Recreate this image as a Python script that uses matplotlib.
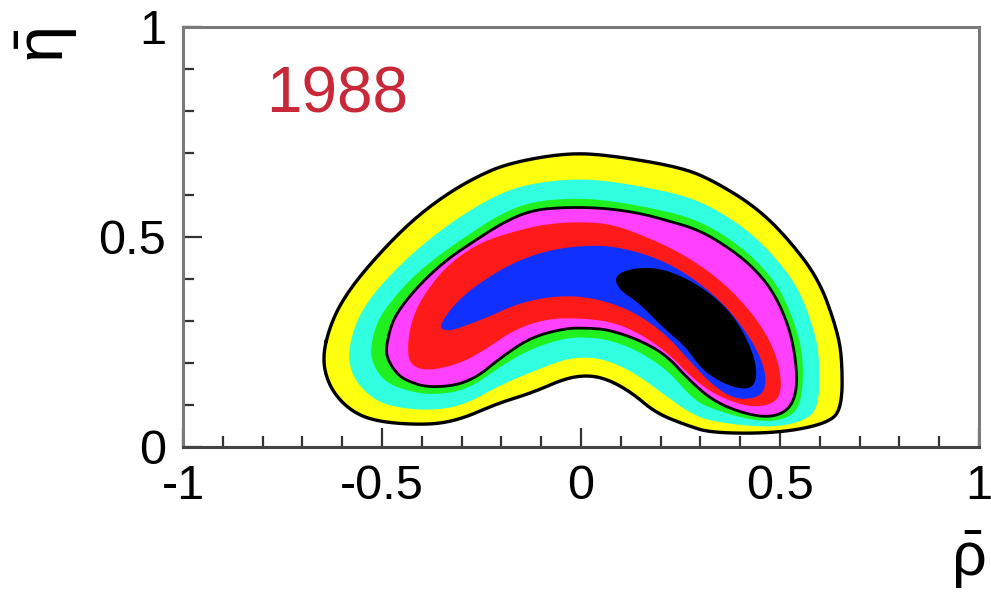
import numpy as np
import matplotlib
matplotlib.use('Agg')
import matplotlib.pyplot as plt
from matplotlib.ticker import MultipleLocator

plt.rcParams['font.family'] = ['Liberation Sans', 'DejaVu Sans']
plt.rcParams['mathtext.fontset'] = 'custom'
plt.rcParams['mathtext.rm'] = 'Liberation Sans'
plt.rcParams['mathtext.it'] = 'Liberation Sans'
plt.rcParams['mathtext.default'] = 'regular'

# contour boundaries (rho_bar, eta_bar), outermost first
outer = [(-0.651, 0.214), (-0.626, 0.302), (-0.583, 0.374), (-0.515, 0.452), (-0.432, 0.533),
         (-0.349, 0.595), (-0.264, 0.643), (-0.181, 0.676), (-0.038, 0.700), (0.070, 0.695),
         (0.246, 0.667), (0.329, 0.636), (0.440, 0.571), (0.523, 0.493), (0.598, 0.398),
         (0.641, 0.286), (0.656, 0.214), (0.656, 0.095), (0.623, 0.057), (0.497, 0.033),
         (0.329, 0.033), (0.264, 0.052), (0.188, 0.081), (0.128, 0.129), (0.070, 0.160),
         (0.020, 0.171), (-0.038, 0.164), (-0.123, 0.129), (-0.206, 0.105), (-0.307, 0.064),
         (-0.389, 0.052), (-0.515, 0.060), (-0.583, 0.088), (-0.633, 0.143)]

yellow_cyan = [(-0.586, 0.224), (-0.565, 0.300), (-0.525, 0.361), (-0.461, 0.428), (-0.384, 0.493),
               (-0.308, 0.546), (-0.230, 0.591), (-0.153, 0.622), (-0.038, 0.638), (0.064, 0.635),
               (0.231, 0.606), (0.314, 0.579), (0.407, 0.525), (0.480, 0.461), (0.544, 0.383),
               (0.584, 0.286), (0.600, 0.211), (0.598, 0.103), (0.570, 0.064), (0.476, 0.045),
               (0.329, 0.060), (0.271, 0.082), (0.203, 0.129), (0.135, 0.176), (0.070, 0.205),
               (0.020, 0.214), (-0.038, 0.210), (-0.123, 0.179), (-0.201, 0.148), (-0.297, 0.098),
               (-0.387, 0.086), (-0.488, 0.098), (-0.538, 0.126), (-0.575, 0.170)]

cyan_green = [(-0.530, 0.232), (-0.513, 0.299), (-0.475, 0.350), (-0.419, 0.409), (-0.348, 0.463),
              (-0.277, 0.509), (-0.205, 0.553), (-0.132, 0.582), (-0.038, 0.592), (0.060, 0.589),
              (0.219, 0.561), (0.302, 0.536), (0.383, 0.490), (0.449, 0.437), (0.503, 0.372),
              (0.541, 0.286), (0.559, 0.208), (0.555, 0.109), (0.526, 0.069), (0.451, 0.058),
              (0.329, 0.090), (0.280, 0.115), (0.219, 0.182), (0.142, 0.230), (0.070, 0.255),
              (0.020, 0.261), (-0.038, 0.260), (-0.123, 0.235), (-0.196, 0.196), (-0.286, 0.135),
              (-0.383, 0.123), (-0.459, 0.140), (-0.497, 0.160), (-0.522, 0.195)]

inner = [(-0.490, 0.238), (-0.475, 0.298), (-0.445, 0.343), (-0.394, 0.398), (-0.332, 0.450),
         (-0.264, 0.493), (-0.193, 0.536), (-0.123, 0.564), (-0.038, 0.571), (0.058, 0.569),
         (0.146, 0.557), (0.214, 0.540), (0.296, 0.517), (0.372, 0.474), (0.435, 0.426),
         (0.485, 0.367), (0.523, 0.286), (0.540, 0.207), (0.543, 0.136), (0.523, 0.088),
         (0.472, 0.069), (0.397, 0.083), (0.329, 0.112), (0.271, 0.160), (0.214, 0.219),
         (0.146, 0.255), (0.070, 0.279), (0.020, 0.283), (-0.038, 0.283), (-0.123, 0.262),
         (-0.193, 0.219), (-0.281, 0.152), (-0.382, 0.140), (-0.445, 0.160), (-0.470, 0.183),
         (-0.487, 0.212)]

magenta_red = [(-0.437, 0.231), (-0.427, 0.298), (-0.399, 0.357), (-0.339, 0.431), (-0.256, 0.486),
               (-0.173, 0.512), (-0.088, 0.531), (-0.005, 0.536), (0.078, 0.531), (0.178, 0.495),
               (0.264, 0.455), (0.347, 0.400), (0.415, 0.336), (0.465, 0.271), (0.495, 0.207),
               (0.505, 0.143), (0.490, 0.105), (0.430, 0.093), (0.347, 0.119), (0.284, 0.160),
               (0.216, 0.226), (0.146, 0.271), (0.078, 0.298), (-0.005, 0.307), (-0.088, 0.305),
               (-0.168, 0.279), (-0.231, 0.238), (-0.299, 0.200), (-0.382, 0.181), (-0.427, 0.193)]

red_blue = [(-0.357, 0.283), (-0.339, 0.314), (-0.307, 0.350), (-0.256, 0.390), (-0.173, 0.438),
            (-0.088, 0.467), (-0.005, 0.479), (0.078, 0.479), (0.178, 0.455), (0.264, 0.414),
            (0.347, 0.352), (0.405, 0.288), (0.447, 0.224), (0.467, 0.164), (0.455, 0.119),
            (0.389, 0.112), (0.329, 0.148), (0.271, 0.207), (0.214, 0.267), (0.146, 0.314),
            (0.078, 0.343), (-0.005, 0.360), (-0.088, 0.357), (-0.168, 0.338), (-0.231, 0.310),
            (-0.299, 0.286), (-0.332, 0.276)]

core = [(0.083, 0.410), (0.146, 0.429), (0.221, 0.421), (0.304, 0.381), (0.372, 0.326),
        (0.415, 0.262), (0.440, 0.200), (0.440, 0.152), (0.415, 0.136), (0.364, 0.148),
        (0.304, 0.183), (0.264, 0.238), (0.204, 0.286), (0.146, 0.343), (0.095, 0.374)]

band_colors = ['#ffff10', '#30ffe0', '#20f020', '#ff40ff', '#ff1a1a', '#1030ff', '#000000']

x_ticks = [-1, -0.5, 0, 0.5, 1]
x_labels = ['-1', '-0.5', '0', '0.5', '1']
y_ticks = [0, 0.5, 1]
y_labels = ['0', '0.5', '1']


def smooth(pts, n=3):
    # chaikin corner cutting on a closed outline
    p = np.asarray(pts, dtype=float)
    for _ in range(n):
        q = np.roll(p, -1, axis=0)
        new = np.empty((2 * len(p), 2))
        new[0::2] = 0.75 * p + 0.25 * q
        new[1::2] = 0.25 * p + 0.75 * q
        p = new
    return p


fig = plt.figure(figsize=(9.91, 5.94), dpi=100)
ax = fig.add_axes([0.1847, 0.2475, 0.8032, 0.7071])

bands = [outer, yellow_cyan, cyan_green, inner, magenta_red, red_blue, core]
for pts, c in zip(bands, band_colors):
    p = smooth(pts)
    ax.fill(p[:, 0], p[:, 1], color=c, lw=0, zorder=2)

for pts, lw in [(outer, 2.4), (inner, 2.0)]:
    p = smooth(pts)
    p = np.vstack([p, p[:1]])
    ax.plot(p[:, 0], p[:, 1], color='black', lw=lw, zorder=3)

ax.text(-0.79, 0.838, '1988', color='#c82838', fontsize=46, va='center', ha='left')

ax.set_xlim(-1, 1)
ax.set_ylim(0, 1)
ax.set_xticks(x_ticks)
ax.set_xticklabels(x_labels)
ax.set_yticks(y_ticks)
ax.set_yticklabels(y_labels)
ax.xaxis.set_minor_locator(MultipleLocator(0.1))
ax.yaxis.set_minor_locator(MultipleLocator(0.1))
ax.tick_params(which='both', direction='in', top=False, right=False, colors='#333333',
               labelcolor='black', labelsize=35, width=1.6)
ax.tick_params(which='major', length=14, pad=12)
ax.tick_params(which='minor', length=8)
for s in ax.spines.values():
    s.set_color('#7a7a7a')
    s.set_linewidth(2.2)
ax.spines['bottom'].set_color('#444444')

fig.text(0.047, 0.924, r'$\bar{\eta}$', rotation=90, fontsize=48, ha='center', va='center')
fig.text(0.977, 0.057, r'$\bar{\rho}$', fontsize=44, ha='center', va='center')

fig.savefig('out.png', dpi=100)
